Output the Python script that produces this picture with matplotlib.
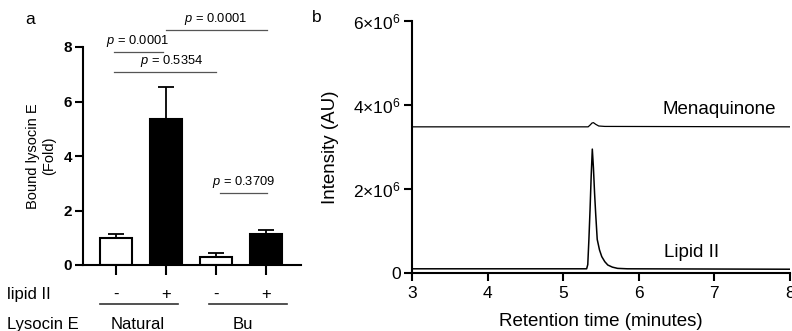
import matplotlib
matplotlib.use("Agg")
import matplotlib.pyplot as plt
import numpy as np

plt.rcParams['font.family'] = ['Liberation Sans', 'DejaVu Sans']
plt.rcParams['mathtext.fontset'] = 'custom'
plt.rcParams['mathtext.rm'] = 'Liberation Sans'
plt.rcParams['mathtext.it'] = 'Liberation Sans:italic'

# panel a data
bar_pos = [0, 1, 2, 3]
bound_fold = [1.0, 5.35, 0.3, 1.15]
bound_err = [0.12, 1.2, 0.15, 0.12]
bar_colors = ['white', 'black', 'white', 'black']
lipid_signs = ['-', '+', '-', '+']
groups = ['Natural', 'Bu']

# comparisons: (x1, x2, y line, label)
comparisons = [
    (-0.04, 0.94, 7.82, '0.0001'),
    (-0.04, 2.0, 7.08, '0.5354'),
    (1.0, 3.02, 8.62, '0.0001'),
    (2.08, 3.02, 2.64, '0.3709'),
]
comp_text_x = [0.43, 1.12, 1.98, 2.56]

# panel b data (retention time in minutes, intensity in 1e6 AU)
lipid_t = [3.0, 5.31, 5.325, 5.34, 5.355, 5.37, 5.385, 5.40, 5.415, 5.43, 5.45, 5.48, 5.51,
           5.55, 5.59, 5.65, 5.72, 5.85, 8.0]
lipid_i = [0.10, 0.10, 0.2, 0.8, 1.5, 2.3, 2.95, 2.5, 1.9, 1.4, 0.8, 0.55, 0.39,
           0.27, 0.19, 0.14, 0.11, 0.10, 0.09]
mena_t = [3.0, 5.33, 5.36, 5.38, 5.40, 5.43, 5.47, 5.55, 8.0]
mena_i = [3.48, 3.48, 3.53, 3.57, 3.58, 3.54, 3.50, 3.49, 3.48]

fig = plt.figure(figsize=(7.92, 3.31), dpi=100)

# ---- panel a ----
ax = fig.add_axes([83/792, 1-265/331, 218/792, 218/331])
ax.bar(bar_pos, bound_fold, width=0.64, color=bar_colors, edgecolor='black', linewidth=1.5, zorder=2)
ax.errorbar(bar_pos, bound_fold, yerr=[np.zeros(4), bound_err], fmt='none', ecolor='black',
            elinewidth=1.3, capsize=6, capthick=1.3, zorder=1)
ax.set_xlim(-0.66, 3.7)
ax.set_ylim(0, 8)
ax.set_yticks([0, 2, 4, 6, 8])
ax.set_xticks(bar_pos)
ax.set_xticklabels([])
ax.tick_params(axis='x', length=7, width=1.5, direction='out')
ax.tick_params(axis='y', length=6, width=1.5, labelsize=11, pad=2)
for lab in ax.get_yticklabels():
    lab.set_fontweight('bold')
for s in ['top', 'right']:
    ax.spines[s].set_visible(False)
ax.spines['left'].set_linewidth(1.5)
ax.spines['bottom'].set_linewidth(1.5)
ax.set_ylabel('Bound lysocin E\n(Fold)', fontsize=10.5, labelpad=5)

for (x1, x2, y, p), tx in zip(comparisons, comp_text_x):
    ax.plot([x1, x2], [y, y], color='#555555', lw=0.9, clip_on=False)
    ax.text(tx, y + 0.1, r'$\it{p}$ = ' + p, fontsize=9.3, ha='center', va='bottom')

for x, s in zip(bar_pos, lipid_signs):
    ax.text(x, -1.08, s, fontsize=12, ha='center', va='center', clip_on=False)
ax.plot([-0.32, 1.24], [-1.43, -1.43], color='#333333', lw=1.2, clip_on=False)
ax.plot([1.86, 3.42], [-1.43, -1.43], color='#333333', lw=1.2, clip_on=False)
ax.text(0.44, -2.2, groups[0], fontsize=12, ha='center', va='center')
ax.text(2.54, -2.2, groups[1], fontsize=12, ha='center', va='center')
fig.text(7/792, 1-294/331, 'lipid II', fontsize=12, ha='left', va='center')
fig.text(7/792, 1-325/331, 'Lysocin E', fontsize=12, ha='left', va='center')
fig.text(30/792, 1-20/331, 'a', fontsize=12.5, ha='center', va='center')

# ---- panel b ----
bx = fig.add_axes([412/792, 1-273/331, 378/792, 252/331])
bx.plot(lipid_t, np.array(lipid_i) * 1e6, color='black', lw=1.1)
bx.plot(mena_t, np.array(mena_i) * 1e6, color='black', lw=0.9)
bx.set_xlim(3, 8)
bx.set_ylim(0, 6e6)
bx.set_xticks([3, 4, 5, 6, 7, 8])
bx.set_yticks([0, 2e6, 4e6, 6e6])
bx.set_yticklabels(['0', r'$2{\times}10^6$', r'$4{\times}10^6$', r'$6{\times}10^6$'])
bx.tick_params(axis='both', length=6, width=1.5, labelsize=12.5)
bx.tick_params(axis='y', pad=2)
for s in ['top', 'right']:
    bx.spines[s].set_visible(False)
bx.spines['left'].set_linewidth(1.5)
bx.spines['bottom'].set_linewidth(1.5)
bx.set_xlabel('Retention time (minutes)', fontsize=13.5, labelpad=8.5)
bx.set_ylabel('Intensity (AU)', fontsize=13.5, labelpad=10)
bx.text(7.07, 3.9e6, 'Menaquinone', fontsize=13.5, ha='center', va='center')
bx.text(6.70, 0.48e6, 'Lipid II', fontsize=13.5, ha='center', va='center')
fig.text(317/792, 1-18/331, 'b', fontsize=12.5, ha='center', va='center')

fig.savefig('out.png', dpi=100)
